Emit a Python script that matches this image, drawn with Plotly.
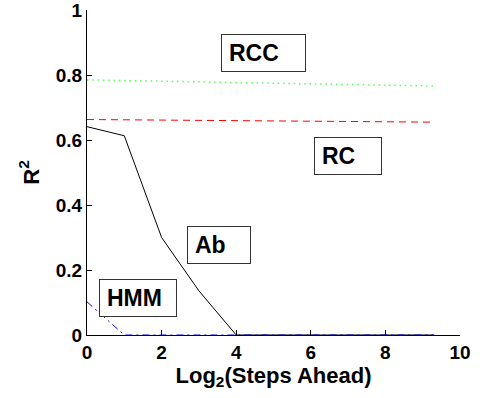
import plotly.graph_objects as go

# Data
x_log2 = [0, 1, 2, 3, 4, 5, 6, 7, 8, 9, 9.3]
rcc = [0.785, 0.783, 0.781, 0.779, 0.777, 0.775, 0.773, 0.771, 0.769, 0.767, 0.766]
rc = [0.663, 0.662, 0.661, 0.660, 0.659, 0.658, 0.658, 0.657, 0.656, 0.655, 0.655]
ab = [0.641, 0.613, 0.30, 0.136, 0, 0, 0, 0, 0, 0, 0]
hmm = [0.102, 0, 0, 0, 0, 0, 0, 0, 0, 0, 0]

labels = ["RCC", "RC", "Ab", "HMM"]
label_x = [4.74, 7.01, 3.55, 1.38]
label_y = [0.869, 0.551, 0.277, 0.114]
label_w = [85, 68, 64, 78]

x_ticks = [0, 2, 4, 6, 8, 10]
x_tick_text = ["0", "2", "4", "6", "8", "10"]
y_ticks = [0, 0.2, 0.4, 0.6, 0.8, 1]
y_tick_text = ["0", "0.2", "0.4", "0.6", "0.8", "1"]

FONT = "Liberation Sans, Arial, sans-serif"

fig = go.Figure()
fig.add_trace(go.Scatter(x=x_log2, y=ab, mode="lines", cliponaxis=False,
                         line=dict(color="black", width=1)))
fig.add_trace(go.Scatter(x=x_log2, y=hmm, mode="lines", cliponaxis=False,
                         line=dict(color="blue", width=1, dash="7px,4px,2px,4px")))
fig.add_trace(go.Scatter(x=x_log2, y=rc, mode="lines", cliponaxis=False,
                         line=dict(color="red", width=1, dash="7px,5px")))
fig.add_trace(go.Scatter(x=x_log2, y=rcc, mode="lines", cliponaxis=False,
                         line=dict(color="#55ff55", width=1.5, dash="1.5px,3.8px")))

PAD = 7
for t, lx, ly, w in zip(labels, label_x, label_y, label_w):
    fig.add_annotation(x=lx, y=ly, xref="x", yref="y", text="<b>" + t + "</b>",
                       showarrow=False, width=w - 2 - 2 * PAD, height=36 - 2 * PAD,
                       align="left", valign="middle", bordercolor="#333333",
                       borderwidth=1, borderpad=PAD, bgcolor="white",
                       font=dict(family=FONT, size=23, color="black"),
                       xanchor="center", yanchor="middle")

fig.update_layout(
    width=485, height=398,
    margin=dict(l=87, r=25, t=10, b=63, autoexpand=False),
    paper_bgcolor="white", plot_bgcolor="white",
    showlegend=False,
    font=dict(family=FONT, color="black"),
)
fig.update_xaxes(range=[0, 10], tickvals=x_ticks,
                 ticktext=["<b>" + s + "</b>" for s in x_tick_text],
                 ticks="inside", ticklen=5, automargin=False,
                 ticklabeloverflow="allow",
                 tickcolor="black", showline=True, linecolor="black", linewidth=1,
                 showgrid=False, zeroline=False, layer="below traces",
                 tickfont=dict(family=FONT, size=19, color="black"),
                 title=dict(text="<b>Log<sub>2</sub>(Steps Ahead)</b>",
                            font=dict(family=FONT, size=22, color="black"),
                            standoff=0))
fig.update_yaxes(range=[0, 1], tickvals=y_ticks,
                 ticktext=["<b>" + s + "</b>" for s in y_tick_text],
                 ticks="inside", ticklen=5, automargin=False,
                 ticklabeloverflow="allow",
                 tickcolor="black", showline=True, linecolor="black", linewidth=1,
                 showgrid=False, zeroline=False, layer="below traces",
                 tickfont=dict(family=FONT, size=19, color="black"),
                 title=dict(text="<b>R<sup>2</sup></b>",
                            font=dict(family=FONT, size=22, color="black"),
                            standoff=10))

fig.write_html("out.html",
               config={"displayModeBar": False},
               post_script="document.body.style.margin='0';"
                           "document.body.style.overflow='hidden';")
